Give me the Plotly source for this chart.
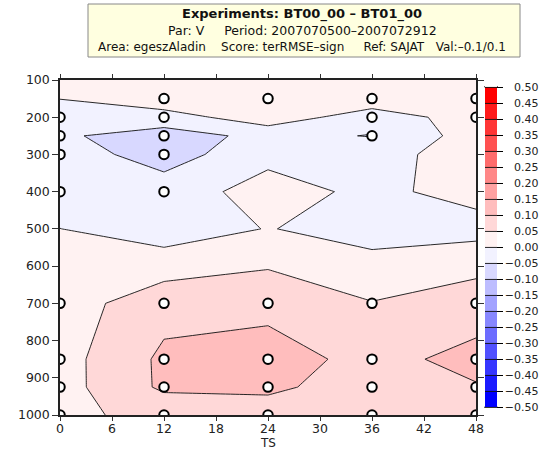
import plotly.graph_objects as go

# ---- data ----
ts = [0, 12, 24, 36, 48]
levels = [100, 150, 200, 250, 300, 400, 500, 700, 850, 925, 1000]
# score values per level (rows) and TS (columns)
z_100 = [0.02, 0.03, 0.03, 0.02, 0.02]
z_150 = [0.001, 0.0375, 0.03, 0.035, 0.03]
z_200 = [-0.03, -0.025, 0.032, -0.03, 0.0256]
z_250 = [-0.044, -0.07, -0.0376, -0.052, 0.0245]
z_300 = [-0.0224, -0.075, -0.0117, -0.02, 0.0255]
z_400 = [-0.03, -0.022, 0.0168, -0.0095, 0.0145]
z_500 = [0.0005, -0.027, 0.002, -0.02, -0.0163]
z_700 = [0.025, 0.082, 0.09, 0.052, 0.0827]
z_850 = [0.03, 0.11, 0.115, 0.089, 0.1106]
z_925 = [0.03, 0.109, 0.112, 0.07, 0.0976]
z_1000 = [0.04, 0.063, 0.07, 0.065, 0.08]
z = [z_100, z_150, z_200, z_250, z_300, z_400, z_500, z_700, z_850, z_925, z_1000]

# significant points (circles)
sig_ts = [0]*8 + [12]*9 + [24]*5 + [36]*7 + [48]*6
sig_lev = ([200, 250, 300, 400, 700, 850, 925, 1000] +
           [150, 200, 250, 300, 400, 700, 850, 925, 1000] +
           [150, 700, 850, 925, 1000] +
           [150, 200, 250, 700, 850, 925, 1000] +
           [150, 200, 700, 850, 925, 1000])

cb_ticks = [round(-0.5 + 0.05 * i, 2) for i in range(21)]
NB = "\u00a0"
title_lines = ["<b>Experiments: BT00_00 \u2013 BT01_00</b>",
               "Par: V" + NB * 4 + " Period: 2007070500\u20132007072912",
               "Area: egeszAladin" + NB * 3 + " Score: terRMSE\u2013sign" + NB * 4 +
               " Ref: SAJAT" + NB * 2 + " Val:\u20130.1/0.1"]
x_title = "TS"

# ---- colours: 22 bands (below -0.5, 20 bands, above 0.5) ----
G = [242, 216, 189, 162, 135, 108, 81, 54, 27, 0]
band_cols = ["rgba(255,255,255,0)"]
for k in range(10, 0, -1):
    band_cols.append(f"rgb({G[k-1]},{G[k-1]},255)")
for k in range(1, 11):
    band_cols.append(f"rgb(255,{G[k-1]},{G[k-1]})")
band_cols.append("rgba(255,255,255,0)")
n = len(band_cols)
cscale = []
for i, c in enumerate(band_cols):
    lo = max(0.0, (i - 0.5) / (n - 1))
    hi = min(1.0, (i + 0.5) / (n - 1))
    cscale.append([lo, c])
    cscale.append([hi, c])


def cb_label(v):
    s = f"{abs(v):.2f}"
    return ("\u2212" + s) if v < 0 else ("\u2007\u2009" + s)


FONT = "DejaVu Sans, sans-serif"
W, H = 544, 451
L, R, T, B = 60, 476, 80, 415


def px(xp):
    return (xp - L) / (R - L)


def py(yp):
    return (B - yp) / (B - T)


fig = go.Figure()
fig.add_trace(go.Contour(
    x=ts, y=levels, z=z,
    colorscale=cscale,
    autocontour=False,
    contours=dict(start=-0.5, end=0.5, size=0.05, coloring="fill"),
    line=dict(color="#111", width=0.9, smoothing=0),
    colorbar=dict(
        x=px(485), xanchor="left", y=py(247), yanchor="middle",
        thickness=12, thicknessmode="pixels", len=336, lenmode="pixels",
        tickvals=cb_ticks, ticktext=[cb_label(v) for v in cb_ticks],
        ticks="outside", ticklen=6, tickcolor="#000", tickwidth=1,
        tickfont=dict(family=FONT, size=11, color="#222"),
        outlinewidth=0, xpad=0, ypad=0,
    ),
    hoverinfo="skip",
))
fig.add_trace(go.Scatter(
    x=sig_ts, y=sig_lev, mode="markers",
    marker=dict(symbol="circle", size=9.5, color="white", line=dict(color="black", width=2)),
    showlegend=False, hoverinfo="skip",
))

shapes = [
    dict(type="rect", xref="paper", yref="paper", x0=px(88), x1=px(520), y0=py(57), y1=py(4),
         fillcolor="#FFFFE0", line=dict(color="#888", width=1), layer="below"),
    dict(type="path", xref="paper", yref="paper",
         path=f"M {px(484.5)} {py(87)} L {px(497.5)} {py(87)} L {px(491)} {py(80)} Z",
         fillcolor="red", line=dict(color="#222", width=1)),
    dict(type="path", xref="paper", yref="paper",
         path=f"M {px(484.5)} {py(407)} L {px(497.5)} {py(407)} L {px(491)} {py(414)} Z",
         fillcolor="blue", line=dict(color="#222", width=1)),
]

annotations = []
for txt, yy, fs in zip(title_lines, [14, 30, 47], [13, 12.5, 12]):
    annotations.append(dict(text=txt, xref="paper", yref="paper", x=px(302), y=py(yy),
                            xanchor="center", yanchor="middle", showarrow=False,
                            font=dict(family=FONT, size=fs, color="#111")))
annotations.append(dict(text=x_title, xref="x", yref="paper", x=24, y=py(443),
                        xanchor="center", yanchor="middle", showarrow=False,
                        font=dict(family=FONT, size=12, color="#222")))

fig.update_layout(
    width=W, height=H,
    margin=dict(l=L, r=W - R, t=T, b=H - B, pad=0, autoexpand=False),
    paper_bgcolor="white", plot_bgcolor="white",
    font=dict(family=FONT, size=12, color="#222"),
    showlegend=False,
    shapes=shapes, annotations=annotations,
    xaxis=dict(range=[0, 48], tickvals=list(range(0, 49, 6)), ticks="outside", ticklen=4,
               ticklabelstandoff=-3,
               tickcolor="#333", showline=True, linecolor="#222", linewidth=1.5, mirror="ticks",
               showgrid=False, zeroline=False, automargin=False,
               tickfont=dict(family=FONT, size=12.5)),
    yaxis=dict(range=[1000, 100], tickvals=list(range(100, 1001, 100)), ticks="outside", ticklen=6,
               tickcolor="#333", showline=True, linecolor="#222", linewidth=1.5, mirror="ticks",
               showgrid=False, zeroline=False, automargin=False, tickfont=dict(family=FONT, size=12.5)),
)

fig.write_html("out.html")
